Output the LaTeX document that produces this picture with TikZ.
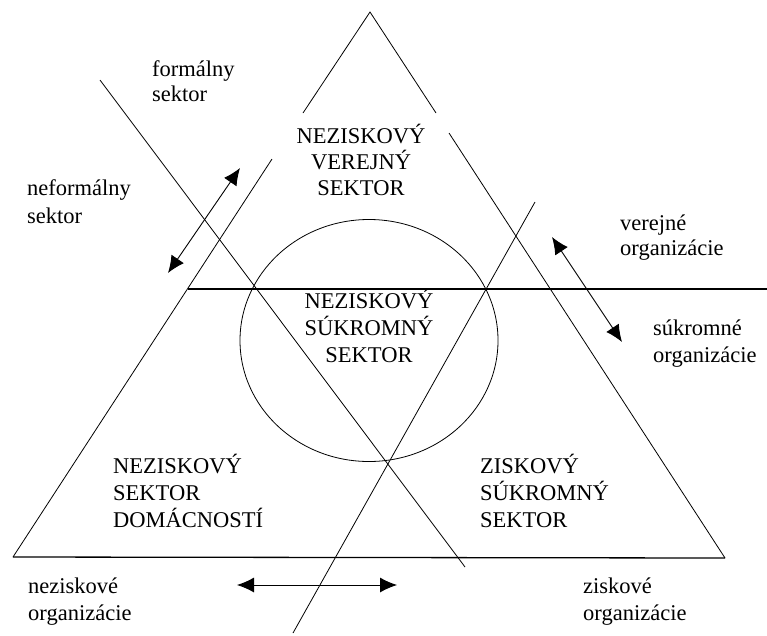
\documentclass[tikz,border=0pt]{standalone}
\usepackage{fontspec}
\setmainfont{Liberation Serif}
\usetikzlibrary{arrows.meta}
\begin{document}
\begin{tikzpicture}[x=1pt,y=-1pt,
  thinline/.style={line width=0.8pt},
  thickline/.style={line width=1.3pt},
  dblarrow/.style={line width=0.9pt,{Latex[length=17pt,width=15pt]}-{Latex[length=17pt,width=15pt]}},
  lbl/.style={inner sep=0pt,font=\fontsize{22.5}{#1}\selectfont,anchor=base west,align=left},
  lbl/.default=27,
  lblc/.style={inner sep=0pt,font=\fontsize{22.5}{#1}\selectfont,anchor=base,align=center},
  lblc/.default=27]
\useasboundingbox (0,0) rectangle (767,635);
% triangle
\coordinate (A) at (370,12);
\coordinate (BL) at (13,557);
\coordinate (BR) at (725,558);
\coordinate (L1) at (303,113);
\coordinate (L2) at (272,159);
\coordinate (R1) at (436,113);
\coordinate (R2) at (449,133);
\draw[thinline] (L1) -- (A) -- (R1);
\draw[thinline] (L2) -- (BL);
\draw[thinline] (R2) -- (BR);
\draw[thickline] (BL) -- (BR);
% horizontal line
\coordinate (H1) at (188,289);
\coordinate (H2) at (767,289);
\draw[thickline] (H1) -- (H2);
% circle
\coordinate (C) at (369,340.5);
\draw[thinline] (C) ellipse [x radius=129, y radius=121];
% diagonals
\coordinate (D1a) at (100,80);
\coordinate (D1b) at (465,567);
\coordinate (D2a) at (535,202);
\coordinate (D2b) at (293,633);
\draw[thinline] (D1a) -- (D1b);
\draw[thinline] (D2a) -- (D2b);
% arrows
\coordinate (P1) at (168,273);
\coordinate (P2) at (240,168);
\coordinate (Q1) at (552,237);
\coordinate (Q2) at (622,342);
\coordinate (S1) at (237,585);
\coordinate (S2) at (397,585);
\draw[dblarrow] (P1) -- (P2);
\draw[dblarrow] (Q1) -- (Q2);
\draw[dblarrow] (S1) -- (S2);
% labels (anchor = baseline of last line)
\node[lbl=25] (formal) at (152,101) {formálny\\sektor};
\node[lbl=28] (neformal) at (27,223) {neformálny\\sektor};
\node[lblc=26] (nvs) at (361,195) {NEZISKOVÝ\\VEREJNÝ\\SEKTOR};
\node[lblc=27] (nss) at (369,362) {NEZISKOVÝ\\SÚKROMNÝ\\SEKTOR};
\node[lbl=27] (nsd) at (113,527) {NEZISKOVÝ\\SEKTOR\\DOMÁCNOSTÍ};
\node[lbl=27] (zss) at (480,527) {ZISKOVÝ\\SÚKROMNÝ\\SEKTOR};
\node[lbl=25] (verej) at (620,255) {verejné\\organizácie};
\node[lbl=27] (sukr) at (653,362) {súkromné\\organizácie};
\node[lbl=27] (nezisk) at (28,620) {neziskové\\organizácie};
\node[lbl=27] (zisk) at (583,620) {ziskové\\organizácie};
\end{tikzpicture}
\end{document}
